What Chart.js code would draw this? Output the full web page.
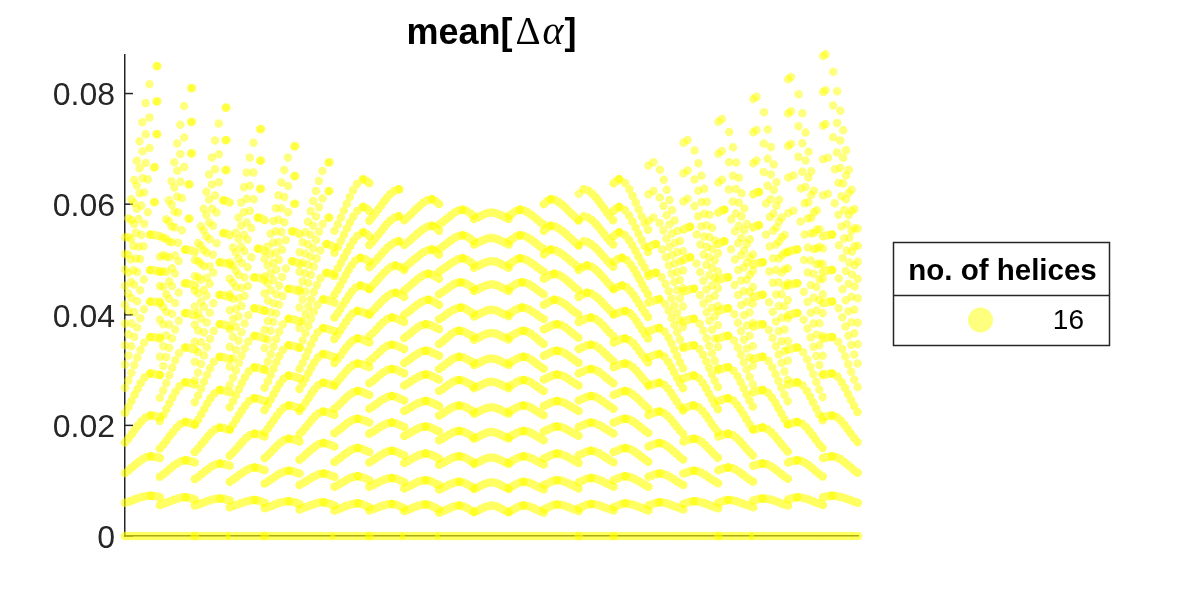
<!DOCTYPE html>
<html>
<head>
<meta charset="utf-8">
<title>mean[Δα]</title>
<script src="https://cdn.jsdelivr.net/npm/chart.js"></script>
<style>
    html, body { margin: 0; padding: 0; background: #ffffff; }
    #wrap { width: 1200px; height: 600px; }
</style>
</head>
<body>
<div id="wrap"><canvas id="chart" width="1200" height="600"></canvas></div>
<script>
// 21 segments along x, each one carries one arc per row
const segEdges = [0, 1, 2, 3, 4, 5, 6, 7, 8, 9, 10, 11, 12, 13, 14, 15, 16, 17, 18, 19, 20, 21];
// x of the top of each arc (low rows / middle rows / high rows)
const peakXLow = [0.74, 1.74, 2.73, 3.72, 4.70, 5.69, 6.67, 7.65, 8.62, 9.58, 10.50,
                  11.42, 12.38, 13.35, 14.33, 15.31, 16.30, 17.28, 18.27, 19.26, 20.26];
const peakXMid = [0.86, 1.85, 2.84, 3.83, 4.81, 5.79, 6.76, 7.76, 8.70, 9.62, 10.50,
                  11.38, 12.30, 13.24, 14.24, 15.21, 16.19, 17.17, 18.16, 19.15, 20.14];
const peakXHigh = [0.93, 1.92, 2.91, 3.90, 4.88, 5.86, 6.84, 7.86, 8.80, 9.68, 10.50,
                   11.32, 12.20, 13.14, 14.16, 15.14, 16.12, 17.10, 18.09, 19.08, 20.07];

// values per segment: [start, peak, end]
const row1 = [0.0060,0.0073,0.0070, 0.0056,0.0070,0.0066, 0.0055,0.0068,0.0064, 0.0052,0.0065,0.0060, 0.0050,0.0063,0.0058,
              0.0048,0.0061,0.0055, 0.0046,0.0059,0.0052, 0.0046,0.0058,0.0050, 0.0045,0.0057,0.0048, 0.0042,0.0055,0.0044,
              0.0043,0.0055,0.0043,
              0.0044,0.0055,0.0042, 0.0048,0.0057,0.0045, 0.0050,0.0058,0.0046, 0.0052,0.0059,0.0046, 0.0055,0.0061,0.0048,
              0.0058,0.0063,0.0050, 0.0060,0.0065,0.0052, 0.0064,0.0068,0.0055, 0.0066,0.0070,0.0056, 0.0070,0.0073,0.0060];
const row2 = [0.0114,0.0144,0.0141, 0.0107,0.0137,0.0133, 0.0103,0.0131,0.0127, 0.0098,0.0124,0.0119, 0.0095,0.0118,0.0113,
              0.0092,0.0113,0.0107, 0.0089,0.0108,0.0101, 0.0089,0.0105,0.0097, 0.0086,0.0101,0.0092, 0.0084,0.0098,0.0087,
              0.0085,0.0097,0.0085,
              0.0087,0.0098,0.0084, 0.0092,0.0101,0.0086, 0.0097,0.0105,0.0089, 0.0101,0.0108,0.0089, 0.0107,0.0113,0.0092,
              0.0113,0.0118,0.0095, 0.0119,0.0124,0.0098, 0.0127,0.0131,0.0103, 0.0133,0.0137,0.0107, 0.0141,0.0144,0.0114];
const row3 = [0.0169,0.0218,0.0215, 0.0158,0.0206,0.0202, 0.0152,0.0196,0.0192, 0.0145,0.0185,0.0180, 0.0141,0.0176,0.0171,
              0.0138,0.0168,0.0162, 0.0134,0.0159,0.0152, 0.0133,0.0154,0.0146, 0.0132,0.0149,0.0140, 0.0129,0.0144,0.0133,
              0.0130,0.0142,0.0130,
              0.0133,0.0144,0.0129, 0.0140,0.0149,0.0132, 0.0146,0.0154,0.0133, 0.0152,0.0159,0.0134, 0.0162,0.0168,0.0138,
              0.0171,0.0176,0.0141, 0.0180,0.0185,0.0145, 0.0192,0.0196,0.0152, 0.0202,0.0206,0.0158, 0.0215,0.0218,0.0169];
const row4 = [0.0223,0.0294,0.0291, 0.0208,0.0278,0.0274, 0.0201,0.0264,0.0260, 0.0193,0.0249,0.0244, 0.0187,0.0236,0.0231,
              0.0184,0.0225,0.0219, 0.0186,0.0212,0.0205, 0.0185,0.0205,0.0197, 0.0181,0.0198,0.0189, 0.0173,0.0190,0.0179,
              0.0176,0.0188,0.0176,
              0.0179,0.0190,0.0173, 0.0189,0.0198,0.0181, 0.0197,0.0205,0.0185, 0.0205,0.0212,0.0186, 0.0219,0.0225,0.0184,
              0.0231,0.0236,0.0187, 0.0244,0.0249,0.0193, 0.0260,0.0264,0.0201, 0.0274,0.0278,0.0208, 0.0291,0.0294,0.0223];
const row5 = [0.0268,0.0360,0.0357, 0.0250,0.0341,0.0337, 0.0242,0.0324,0.0320, 0.0233,0.0305,0.0300, 0.0228,0.0290,0.0285,
              0.0226,0.0277,0.0271, 0.0230,0.0262,0.0255, 0.0230,0.0253,0.0245, 0.0226,0.0244,0.0235, 0.0218,0.0236,0.0225,
              0.0221,0.0233,0.0221,
              0.0225,0.0236,0.0218, 0.0235,0.0244,0.0226, 0.0245,0.0253,0.0230, 0.0255,0.0262,0.0230, 0.0271,0.0277,0.0226,
              0.0285,0.0290,0.0228, 0.0300,0.0305,0.0233, 0.0320,0.0324,0.0242, 0.0337,0.0341,0.0250, 0.0357,0.0360,0.0268];
const row6 = [0.0310,0.0424,0.0421, 0.0291,0.0403,0.0399, 0.0281,0.0383,0.0379, 0.0273,0.0362,0.0357, 0.0268,0.0345,0.0340,
              0.0266,0.0329,0.0323, 0.0274,0.0312,0.0305, 0.0276,0.0302,0.0294, 0.0272,0.0292,0.0283, 0.0262,0.0282,0.0271,
              0.0267,0.0279,0.0267,
              0.0271,0.0282,0.0262, 0.0283,0.0292,0.0272, 0.0294,0.0302,0.0276, 0.0305,0.0312,0.0274, 0.0323,0.0329,0.0266,
              0.0340,0.0345,0.0268, 0.0357,0.0362,0.0273, 0.0379,0.0383,0.0281, 0.0399,0.0403,0.0291, 0.0421,0.0424,0.0310];
const row7 = [0.0345,0.0481,0.0478, 0.0324,0.0457,0.0453, 0.0315,0.0436,0.0432, 0.0306,0.0412,0.0407, 0.0302,0.0393,0.0388,
              0.0302,0.0376,0.0370, 0.0313,0.0357,0.0350, 0.0316,0.0346,0.0338, 0.0313,0.0335,0.0326, 0.0302,0.0324,0.0313,
              0.0309,0.0321,0.0309,
              0.0313,0.0324,0.0302, 0.0326,0.0335,0.0313, 0.0338,0.0346,0.0316, 0.0350,0.0357,0.0313, 0.0370,0.0376,0.0302,
              0.0388,0.0393,0.0302, 0.0407,0.0412,0.0306, 0.0432,0.0436,0.0315, 0.0453,0.0457,0.0324, 0.0478,0.0481,0.0345];
const row8 = [0.0384,0.0545,0.0542, 0.0360,0.0518,0.0514, 0.0351,0.0495,0.0491, 0.0342,0.0468,0.0463, 0.0340,0.0447,0.0442,
              0.0341,0.0428,0.0422, 0.0356,0.0407,0.0400, 0.0361,0.0395,0.0387, 0.0358,0.0383,0.0374, 0.0347,0.0371,0.0360,
              0.0355,0.0367,0.0355,
              0.0360,0.0371,0.0347, 0.0374,0.0383,0.0358, 0.0387,0.0395,0.0361, 0.0400,0.0407,0.0356, 0.0422,0.0428,0.0341,
              0.0442,0.0447,0.0340, 0.0463,0.0468,0.0342, 0.0491,0.0495,0.0351, 0.0514,0.0518,0.0360, 0.0542,0.0545,0.0384];
const row9 = [0.0418,0.0604,0.0601, 0.0391,0.0574,0.0570, 0.0382,0.0548,0.0544, 0.0374,0.0520,0.0515, 0.0373,0.0497,0.0492,
              0.0376,0.0476,0.0470, 0.0395,0.0453,0.0446, 0.0402,0.0440,0.0432, 0.0400,0.0427,0.0418, 0.0392,0.0413,0.0402,
              0.0397,0.0409,0.0397,
              0.0402,0.0413,0.0392, 0.0418,0.0427,0.0400, 0.0432,0.0440,0.0402, 0.0446,0.0453,0.0395, 0.0470,0.0476,0.0376,
              0.0499,0.0504,0.0379, 0.0528,0.0533,0.0383, 0.0558,0.0562,0.0392, 0.0584,0.0588,0.0401, 0.0616,0.0619,0.0428];
const row10 = [0.0452,0.0667,0.0664, 0.0424,0.0636,0.0632, 0.0415,0.0607,0.0603, 0.0408,0.0576,0.0571, 0.0408,0.0551,0.0546,
               0.0413,0.0528,0.0522, 0.0436,0.0503,0.0496, 0.0447,0.0489,0.0481, 0.0444,0.0474,0.0465, 0.0437,0.0459,0.0448,
               0.0443,0.0455,0.0443,
               0.0448,0.0459,0.0437, 0.0465,0.0474,0.0444, 0.0481,0.0489,0.0447, 0.0496,0.0503,0.0436, 0.0522,0.0528,0.0413,
               0.0554,0.0559,0.0414, 0.0585,0.0590,0.0418, 0.0618,0.0622,0.0425, 0.0648,0.0652,0.0435, 0.0681,0.0684,0.0463];
const row11 = [0.0482,0.0727,0.0724, 0.0452,0.0692,0.0688, 0.0444,0.0662,0.0658, 0.0437,0.0628,0.0623, 0.0439,0.0601,0.0596,
               0.0446,0.0576,0.0570, 0.0474,0.0549,0.0542, 0.0486,0.0533,0.0525, 0.0486,0.0518,0.0509, 0.0478,0.0502,0.0491,
               0.0485,0.0497,0.0485,
               0.0491,0.0502,0.0478, 0.0509,0.0518,0.0486, 0.0525,0.0533,0.0486, 0.0542,0.0549,0.0474, 0.0570,0.0576,0.0446,
               0.0605,0.0610,0.0446, 0.0639,0.0644,0.0448, 0.0674,0.0679,0.0455, 0.0705,0.0709,0.0463, 0.0742,0.0745,0.0494];
const row12 = [0.0510,0.0786,0.0783, 0.0478,0.0749,0.0745, 0.0470,0.0716,0.0712, 0.0465,0.0679,0.0674, 0.0469,0.0651,0.0646,
               0.0478,0.0624,0.0618, 0.0512,0.0595,0.0588, 0.0526,0.0578,0.0570, 0.0526,0.0561,0.0552, 0.0519,0.0544,0.0533,
               0.0527,0.0539,0.0527,
               0.0533,0.0544,0.0519, 0.0552,0.0561,0.0526, 0.0570,0.0578,0.0526, 0.0588,0.0595,0.0512, 0.0618,0.0624,0.0478,
               0.0656,0.0661,0.0476, 0.0691,0.0696,0.0477, 0.0730,0.0734,0.0482, 0.0764,0.0768,0.0490, 0.0803,0.0806,0.0523];
const row13 = [0.0540,0.0850,0.0847, 0.0505,0.0810,0.0806, 0.0499,0.0775,0.0771, 0.0495,0.0736,0.0731, 0.0501,0.0705,0.0700,
               0.0513,0.0676,0.0670, 0.0552,0.0645,0.0638, 0.0570,0.0627,0.0619, 0.0571,0.0609,0.0600, 0.0563,0.0590,0.0579,
               0.0573,0.0585,0.0573,
               0.0579,0.0590,0.0563, 0.0600,0.0609,0.0571, 0.0619,0.0627,0.0570, 0.0638,0.0645,0.0552, 0.0670,0.0676,0.0513,
               0.0711,0.0716,0.0509, 0.0749,0.0754,0.0507, 0.0790,0.0794,0.0511, 0.0826,0.0830,0.0518, 0.0868,0.0871,0.0554];
// the row lying on zero, one value per segment edge
const zeroRow = [0, 0, 0, 0, 0, 0, 0, 0, 0, 0, 0, 0, 0, 0, 0, 0, 0, 0, 0, 0, 0, 0];

const allRows = [row1, row2, row3, row4, row5, row6, row7, row8, row9, row10, row11, row12, row13];
const rowPeakX = [peakXLow, peakXLow, peakXLow, peakXLow, peakXLow, peakXLow, peakXLow, peakXLow,
                  peakXMid, peakXMid, peakXHigh, peakXHigh, peakXHigh];

const yTicks = [0, 0.02, 0.04, 0.06, 0.08];
const yTickLabels = ['0', '0.02', '0.04', '0.06', '0.08'];
const yMax = 0.08697;

const legendTitle = 'no. of helices';
const legendLabels = ['16'];

const DOT_STEP = 3.5;   // px between dots along x
const DOT_SIZE = 8.5;   // dot diameter
const FONT = '"Liberation Sans", Arial, Helvetica, sans-serif';

// 円弧ごとの点を作る (区間の間は null で切る)
function buildArcs(values, peaks) {
    const pts = [];
    for (let k = 0; k < segEdges.length - 1; k++) {
        pts.push({ x: segEdges[k], y: values[3 * k] });
        pts.push({ x: peaks[k], y: values[3 * k + 1] });
        pts.push({ x: segEdges[k + 1], y: values[3 * k + 2] });
        pts.push({ x: segEdges[k + 1], y: null });
    }
    return pts;
}

function buildZero(values) {
    return values.map((v, i) => ({ x: segEdges[i], y: v }));
}

// how many dots on one piece of curve, and how far apart
function dotLayout(c) {
    const dx = Math.abs(c.p1.x - c.p0.x);
    const len = Math.hypot(c.p1.x - c.p0.x, c.p1.y - c.p0.y);
    const n = Math.max(1, Math.round(dx / DOT_STEP));
    return { n: n, s: Math.max(1, len / n) };
}

function dotDash(c) {
    const d = dotLayout(c);
    // a very short piece only gets the one dot at its start
    if (d.n === 1 && d.s < DOT_SIZE) {
        return [0, d.s + DOT_SIZE];
    }
    return [0, d.s];
}

function dotColor(c) {
    const d = dotLayout(c);
    let a = 0.5;
    if (d.n > 1 && d.s < DOT_SIZE) {
        a = Math.min(0.62, 1 - Math.pow(0.5, DOT_SIZE / d.s));
    }
    return 'rgba(255, 255, 0, ' + a.toFixed(3) + ')';
}

function dotDataset(points) {
    return {
        data: points,
        borderColor: 'rgba(255, 255, 0, 0.5)',
        borderWidth: DOT_SIZE,
        borderCapStyle: 'round',
        borderJoinStyle: 'round',
        pointRadius: 0,
        cubicInterpolationMode: 'monotone',
        fill: false,
        clip: false,
        segment: {
            borderDash: dotDash,
            borderColor: dotColor
        }
    };
}

// タイトル (Δ と斜体の α を混ぜて描く)
const titlePlugin = {
    id: 'texTitle',
    afterDraw(chart) {
        const c = chart.ctx;
        const area = chart.chartArea;
        const parts = [
            { t: 'mean[', f: 'bold 36px ' + FONT, gap: 3 },
            { t: 'Δ', f: '39px "Liberation Serif", "Times New Roman", serif', gap: 2 },
            { t: 'α', f: 'italic 40px "Liberation Serif", "Times New Roman", serif', gap: 1 },
            { t: ']', f: 'bold 36px ' + FONT, gap: 0 }
        ];
        c.save();
        let total = 0;
        parts.forEach(p => { c.font = p.f; p.w = c.measureText(p.t).width + p.gap; total += p.w; });
        let x = (area.left + area.right) / 2 - total / 2;
        c.fillStyle = '#000000';
        c.textBaseline = 'alphabetic';
        c.textAlign = 'left';
        parts.forEach(p => { c.font = p.f; c.fillText(p.t, x, 44); x += p.w; });
        c.restore();
    }
};

// 内向きの目盛り
const innerTicks = {
    id: 'innerTicks',
    beforeDatasetsDraw(chart) {
        const c = chart.ctx;
        const y = chart.scales.y;
        const left = chart.chartArea.left;
        c.save();
        c.strokeStyle = '#262626';
        c.lineWidth = 1.5;
        yTicks.forEach(v => {
            const py = y.getPixelForValue(v);
            c.beginPath();
            c.moveTo(left, py);
            c.lineTo(left + 8, py);
            c.stroke();
        });
        c.restore();
    }
};

// 凡例の箱
const legendBox = {
    id: 'legendBox',
    afterDraw(chart) {
        const c = chart.ctx;
        const x0 = 893.5, x1 = 1109.5, y0 = 242.5, y1 = 345.5, ySep = 295.5;
        c.save();
        c.fillStyle = '#ffffff';
        c.fillRect(x0, y0, x1 - x0, y1 - y0);
        c.strokeStyle = '#262626';
        c.lineWidth = 1.5;
        c.strokeRect(x0, y0, x1 - x0, y1 - y0);
        c.beginPath();
        c.moveTo(x0, ySep);
        c.lineTo(x1, ySep);
        c.stroke();

        c.fillStyle = '#000000';
        c.font = 'bold 29.5px ' + FONT;
        c.textAlign = 'center';
        c.textBaseline = 'alphabetic';
        c.fillText(legendTitle, (x0 + x1) / 2 + 1, 280);

        legendLabels.forEach((lab, i) => {
            const cy = 320 + i * 40;
            c.fillStyle = 'rgba(255, 255, 0, 0.5)';
            c.beginPath();
            c.arc(980.5, cy, 12.5, 0, Math.PI * 2);
            c.fill();
            c.fillStyle = '#000000';
            c.font = '28px ' + FONT;
            c.textAlign = 'right';
            c.textBaseline = 'middle';
            c.fillText(lab, 1084, cy + 1);
        });
        c.restore();
    }
};

function drawChart() {
    const datasets = [dotDataset(buildZero(zeroRow))];
    allRows.forEach((r, i) => datasets.push(dotDataset(buildArcs(r, rowPeakX[i]))));

    const ctx = document.getElementById('chart').getContext('2d');
    return new Chart(ctx, {
        type: 'line',
        data: { datasets: datasets },
        options: {
            responsive: false,
            animation: false,
            events: [],
            layout: { padding: { left: 0, right: 342, top: 55, bottom: 64 } },
            plugins: {
                legend: { display: false },
                title: { display: false },
                tooltip: { enabled: false }
            },
            scales: {
                x: {
                    type: 'linear',
                    min: segEdges[0],
                    max: segEdges[segEdges.length - 1],
                    grid: { display: false },
                    border: { display: true, color: '#262626', width: 1.5 },
                    ticks: { display: false },
                    afterFit: s => { s.height = 0; }
                },
                y: {
                    min: 0,
                    max: yMax,
                    grid: { display: false, drawTicks: false },
                    border: { display: true, color: '#262626', width: 1.5 },
                    afterBuildTicks: s => { s.ticks = yTicks.map(v => ({ value: v })); },
                    afterFit: s => { s.width = 125; },
                    ticks: {
                        padding: 10,
                        labelOffset: 3,
                        color: '#262626',
                        font: { family: FONT, size: 32 },
                        callback: (v, i) => yTickLabels[i]
                    }
                }
            }
        },
        plugins: [innerTicks, titlePlugin, legendBox]
    });
}

drawChart();
</script>
</body>
</html>
